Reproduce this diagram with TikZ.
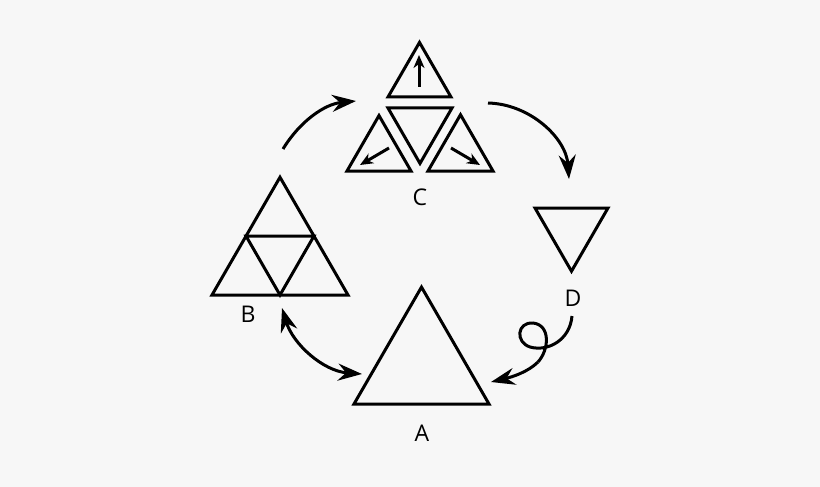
\documentclass[tikz,border=0pt]{standalone}
\usepackage{fontspec}
\setmainfont{Open Sans}
\usetikzlibrary{arrows.meta}
\definecolor{bgpaper}{RGB}{247,247,247}
\def\uptri(#1,#2)(#3){\draw[tri] (#1-#3*0.5,#2) -- (#1,#2-#3*0.866) -- (#1+#3*0.5,#2) -- cycle;}
\def\downtri(#1,#2)(#3){\draw[tri] (#1-#3*0.5,#2) -- (#1,#2+#3*0.866) -- (#1+#3*0.5,#2) -- cycle;}
\tikzset{
	tri/.style={line width=3pt, line join=miter},
	flow/.style={line width=3pt, -{Stealth[length=24pt, width=17pt, inset=8pt]}},
	both/.style={line width=3pt, {Stealth[length=24pt, width=17pt, inset=8pt]}-{Stealth[length=24pt, width=17pt, inset=8pt]}},
	turn/.style={line width=3pt, -{Stealth[length=13pt, width=11pt, inset=4pt]}},
	letter/.style={font=\fontsize{23}{23}\selectfont, inner sep=0pt}
}

\begin{document}
\begin{tikzpicture}[x=1pt, y=-1pt]
				\fill[bgpaper] (0,0) rectangle (820,487);
				\useasboundingbox (0,0) rectangle (820,487);
				
				\uptri(421.5,404)(135)
				\node[letter] (labA) at (422,433) {A};
				
				\uptri(280,295)(136)
				\draw[tri] (246,236) -- (314,236) -- (280,295) -- cycle;
				\node[letter] (labB) at (248,314) {B};
				
				\uptri(419.5,97)(63)
				\downtri(420,108)(64)
				\uptri(379,171)(64)
				\uptri(460.5,171)(65)
				\coordinate (upS) at (419,87);
				\coordinate (upE) at (419,55);
				\coordinate (leftS) at (389,148);
				\coordinate (leftE) at (360,165);
				\coordinate (rightS) at (451,148);
				\coordinate (rightE) at (480,165);
				\draw[turn] (upS) -- (upE);
				\draw[turn] (leftS) -- (leftE);
				\draw[turn] (rightS) -- (rightE);
				\node[letter] (labC) at (420,197) {C};
				
				\downtri(571.5,208)(73)
				\node[letter] (labD) at (573,298) {D};
				
				\coordinate (bcS) at (283,149);
				\coordinate (bcE) at (356,101);
				\coordinate (cdS) at (488,103);
				\coordinate (cdE) at (569,179);
				\coordinate (daS) at (572,316);
				\coordinate (daE) at (491,382);
				\coordinate (baS) at (282,308);
				\coordinate (baE) at (362,374);
				
				\draw[flow] (bcS) .. controls (300,121) and (325,104) .. (bcE);
				\draw[flow] (cdS) .. controls (530,104) and (566,138) .. (cdE);
				\draw[line width=3pt] (daS) .. controls (570,340) and (548,352) .. (530,347) .. controls (515,342) and (517,322) .. (533,323) .. controls (551,325) and (549,350) .. (538,362);
				\draw[flow] (538,362) .. controls (528,372) and (512,377) .. (daE);
				\draw[both] (baS) .. controls (293,344) and (323,371) .. (baE);
			\end{tikzpicture}
\end{document}
